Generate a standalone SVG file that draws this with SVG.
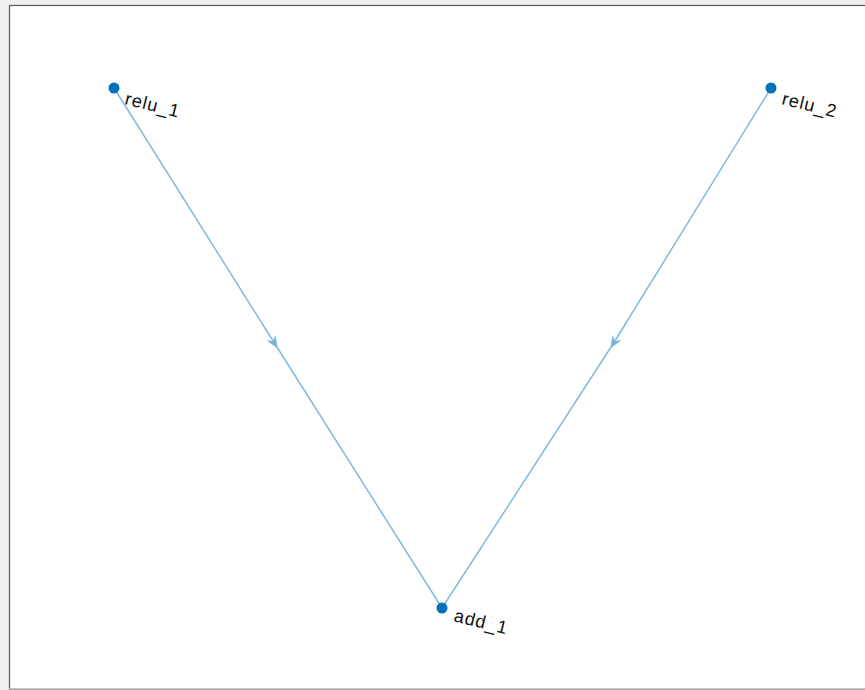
<svg xmlns="http://www.w3.org/2000/svg" width="865" height="690" viewBox="0 0 865 690">
<style>
.edge{stroke:#80b9e0;stroke-width:1.5;fill:none}
.node{fill:#0072bd}
.lbl{font-family:"Liberation Sans",Arial,sans-serif;font-size:18px;letter-spacing:1px;fill:#111111}
</style>
<defs>
<marker id="arr" viewBox="0 0 10 10" refX="6" refY="5" markerWidth="13" markerHeight="13" orient="auto" markerUnits="userSpaceOnUse">
<path d="M0,1 L10,5 L0,9 L3.5,5 Z" fill="#6fb0dd"/>
</marker>
</defs>
<rect x="0" y="0" width="865" height="690" fill="#f0f0f0"/>
<rect x="9.5" y="5.5" width="870" height="684" fill="#ffffff" stroke="#5a5a5a" stroke-width="1.2"/>
<line x1="9" y1="689" x2="865" y2="689" stroke="#bdbdbd" stroke-width="1.5"/>
<g id="edges">
<path class="edge" d="M114,88 L275,344" marker-end="url(#arr)"/>
<path class="edge" d="M275,344 L442,608"/>
<path class="edge" d="M771,88 L613,344" marker-end="url(#arr)"/>
<path class="edge" d="M613,344 L442,608"/>
</g>
<g id="relu_1">
<circle class="node" cx="114" cy="88" r="5.5"/>
<text class="lbl" transform="translate(124,104) rotate(14)">relu_1</text>
</g>
<g id="relu_2">
<circle class="node" cx="771" cy="88" r="5.5"/>
<text class="lbl" transform="translate(781,104) rotate(14)">relu_2</text>
</g>
<g id="add_1">
<circle class="node" cx="442" cy="608" r="5.5"/>
<text class="lbl" transform="translate(453,621) rotate(14)">add_1</text>
</g>
</svg>
